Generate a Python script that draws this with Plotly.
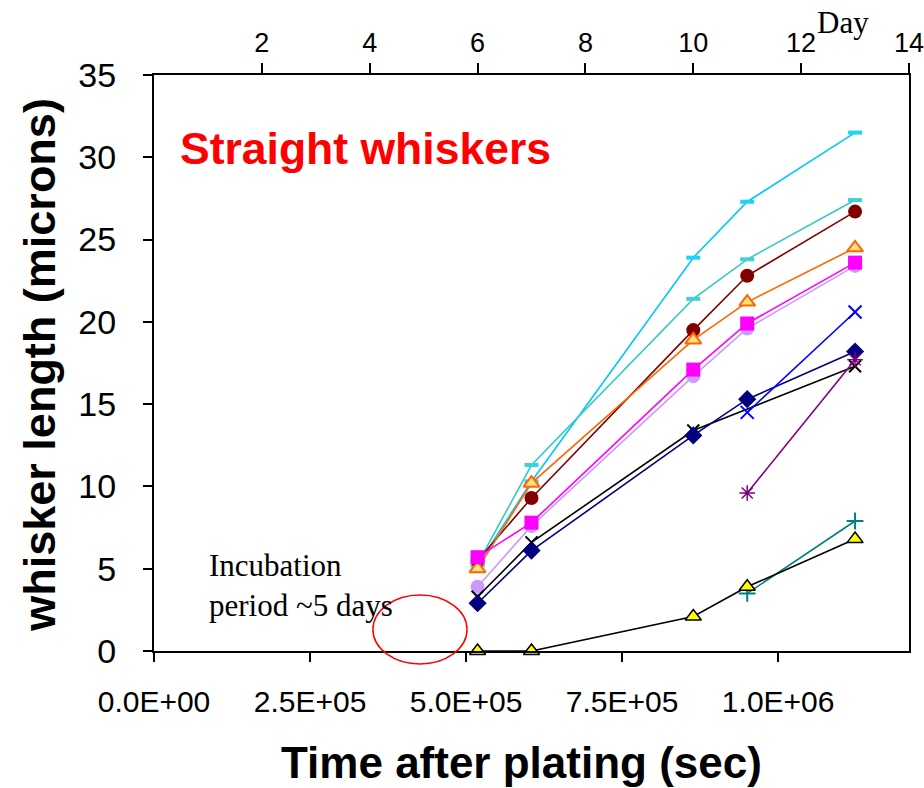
import plotly.graph_objects as go

# Sampling times (seconds after plating)
t_all = [518400, 604800, 864000, 950400, 1123200]
t_late = [950400, 1123200]
t_no11 = [518400, 604800, 864000, 1123200]

# Whisker lengths (microns) for each tracked whisker
w_skyblue = [5.2, 10.3, 23.9, 27.3, 31.5]
w_turq = [5.3, 11.3, 21.4, 23.8, 27.4]
w_maroon = [5.5, 9.3, 19.5, 22.8, 26.7]
w_orange = [5.0, 10.2, 18.9, 21.2, 24.5]
w_magenta = [5.7, 7.8, 17.1, 19.9, 23.6]
w_lavender = [3.9, 7.6, 16.7, 19.6, 23.4]
w_navy = [2.9, 6.1, 13.1, 15.3, 18.2]
w_black = [3.3, 6.6, 13.4, 17.3]
w_blue = [14.5, 20.6]
w_purple = [9.6, 17.7]
w_teal = [3.5, 7.9]
w_yellow = [0.0, 0.0, 2.1, 3.9, 6.8]

# Top axis (days)
day_ticks = [2, 4, 6, 8, 10, 12, 14]
day_labels = ["2", "4", "6", "8", "10", "12", "14"]
# Bottom axis ticks (seconds)
sec_ticks = [0, 250000, 500000, 750000, 1000000]
sec_labels = ["0.0E+00", "2.5E+05", "5.0E+05", "7.5E+05", "1.0E+06"]

series = [
    (t_all, w_skyblue, "#00C8F8", dict(symbol="line-ew", size=10, line=dict(color="#22D0F8", width=4))),
    (t_all, w_turq, "#38C8C8", dict(symbol="line-ew", size=10, line=dict(color="#40D0D8", width=4))),
    (t_all, w_maroon, "#800000", dict(symbol="circle", size=14, color="#800000", line=dict(width=0))),
    (t_all, w_orange, "#FF6600", dict(symbol="triangle-up", size=14, color="#FFE080", line=dict(color="#FF6600", width=2))),
    (t_all, w_lavender, "#CC99FF", dict(symbol="circle", size=14, color="#CC99FF", line=dict(width=0))),
    (t_all, w_magenta, "#FF00FF", dict(symbol="square", size=14, color="#FF00FF", line=dict(width=0))),
    (t_no11, w_black, "#000000", dict(symbol="x-thin", size=12, line=dict(color="#000000", width=2))),
    (t_all, w_navy, "#000080", dict(symbol="diamond", size=14, color="#000080", line=dict(width=0))),
    (t_late, w_blue, "#0000FF", dict(symbol="x-thin", size=13, line=dict(color="#0000FF", width=2))),
    (t_late, w_purple, "#800080", dict(symbol="asterisk", size=13, line=dict(color="#800080", width=1.5))),
    (t_late, w_teal, "#008080", dict(symbol="cross-thin", size=12, line=dict(color="#008080", width=2))),
    (t_all, w_yellow, "#000000", dict(symbol="triangle-up", size=14, color="#FFFF00", line=dict(color="#000000", width=1.5))),
]

fig = go.Figure()
for x, y, col, mk in series:
    fig.add_trace(go.Scatter(x=x, y=y, mode="lines+markers",
                             line=dict(color=col, width=1.6),
                             marker=mk, showlegend=False, cliponaxis=False))

# invisible trace to activate the top day axis
fig.add_trace(go.Scatter(x=[0, 14], y=[0, 0], xaxis="x2", mode="markers",
                         marker=dict(opacity=0), showlegend=False, hoverinfo="skip"))

fig.update_layout(
    width=924, height=788,
    margin=dict(l=154, r=15, t=75, b=137, autoexpand=False),
    paper_bgcolor="white", plot_bgcolor="white",
    font=dict(family="Liberation Sans, Arial, sans-serif", color="black"),
    xaxis=dict(range=[0, 1209600], tickvals=sec_ticks, ticktext=sec_labels,
               showline=True, linecolor="black", linewidth=2,
               ticks="outside", ticklen=9, tickwidth=1.5, tickcolor="black",
               ticklabelstandoff=14, automargin=False,
               tickfont=dict(size=30), showgrid=False, zeroline=False),
    xaxis2=dict(range=[0, 14.0005], overlaying="x", side="top",
                tickvals=day_ticks, ticktext=day_labels,
                showline=True, linecolor="black", linewidth=2,
                ticks="outside", ticklen=10, tickwidth=1.5, tickcolor="black",
                ticklabelstandoff=0, automargin=False,
                tickfont=dict(size=27, family="Liberation Sans Narrow, Arial Narrow, sans-serif"),
                showgrid=False, zeroline=False),
    yaxis=dict(range=[0, 35], dtick=5, showline=True, linecolor="black", linewidth=2,
               mirror=True, automargin=False,
               ticks="outside", ticklen=9, tickwidth=1.5, tickcolor="black",
               ticklabelstandoff=20,
               tickfont=dict(size=34), showgrid=False, zeroline=False),
)

fig.add_annotation(text="<b>whisker length (microns)</b>", xref="paper", yref="paper",
                   x=-0.151, y=0.497, xanchor="center", yanchor="middle", textangle=-90,
                   showarrow=False, font=dict(size=45, color="black"))
fig.add_annotation(text="<b>Time after plating (sec)</b>", xref="paper", yref="paper",
                   x=0.487, y=-0.193, xanchor="center", yanchor="middle",
                   showarrow=False, font=dict(size=44, color="black"))
fig.add_annotation(text="<b>Straight whiskers</b>", xref="paper", yref="paper",
                   x=0.0318, y=0.873, xanchor="left", yanchor="middle",
                   showarrow=False, font=dict(size=44.5, color="#FF0000"))
fig.add_annotation(text="Incubation<br>period ~5 days", xref="paper", yref="paper",
                   x=0.0700, y=0.113, xanchor="left", yanchor="middle", align="left",
                   showarrow=False, font=dict(size=31, color="black",
                                              family="Liberation Serif, Times New Roman, serif"))
fig.add_annotation(text="Day", xref="paper", yref="paper",
                   x=0.9126, y=1.092, xanchor="center", yanchor="middle",
                   showarrow=False, font=dict(size=31, color="black",
                                              family="Liberation Serif, Times New Roman, serif"))

# red ellipse marking the incubation period
fig.add_shape(type="circle", xref="paper", yref="paper",
              x0=0.290, x1=0.4146, y0=-0.0226, y1=0.0972,
              line=dict(color="#FF0000", width=1.5), layer="above")

fig.write_html("out.html")
